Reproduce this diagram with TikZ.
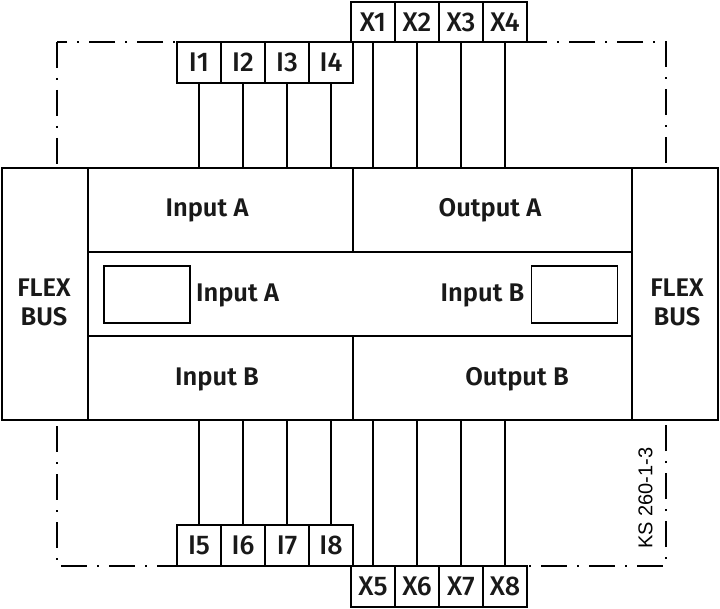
\documentclass[tikz,border=0pt]{standalone}
\usepackage{fontspec}
\newfontfamily\labfont{Fira Sans SemiBold}
\newfontfamily\termfont{Fira Sans Medium}
\newfontfamily\codefont{Liberation Sans}
\begin{document}
\begin{tikzpicture}[x=1pt,y=-1pt,
  panel/.style={draw, line width=1.8pt, fill=white, inner sep=0pt, rectangle},
  term/.style={draw, line width=1.8pt, fill=white, inner sep=0pt, minimum width=44pt, font=\termfont\fontsize{27}{29}\selectfont, text=black!90},
  wire/.style={line width=1.2pt},
  lbl/.style={font=\labfont\fontsize{25.5}{29}\selectfont, inner sep=0pt, align=center, text=black!90},
  frame/.style={line width=1.3pt, dash pattern=on 26pt off 10pt on 2pt off 10pt}]
\useasboundingbox (0,0) rectangle (720,609);
% dash-dot enclosure
\coordinate (f1) at (57,42);
\coordinate (f2) at (666,566);
\draw[frame] (f1) rectangle (f2);
% main panels
\node[panel, minimum width=86pt, minimum height=252pt] (flexL) at (45,294) {};
\node[panel, minimum width=86pt, minimum height=252pt] (flexR) at (675,294) {};
\node[panel, minimum width=265pt, minimum height=84pt] (inA) at (220.5,210) {};
\node[panel, minimum width=279pt, minimum height=84pt] (outA) at (492.5,210) {};
\node[panel, minimum width=544pt, minimum height=84pt] (mid) at (360,294) {};
\node[panel, minimum width=265pt, minimum height=84pt] (inB) at (220.5,378) {};
\node[panel, minimum width=279pt, minimum height=84pt] (outB) at (492.5,378) {};
\node[panel, minimum width=86pt, minimum height=57pt] (boxL) at (147,294.5) {};
\node[panel, minimum width=86pt, minimum height=57pt] (boxR) at (574.5,294.5) {};
% labels
\node[lbl] (tflexL) at (44,302) {FLEX\\BUS};
\node[lbl] (tflexR) at (677,302) {FLEX\\BUS};
\node[lbl] (tinA) at (207,210) {Input A};
\node[lbl] (toutA) at (490,210) {Output A};
\node[lbl] (tminA) at (237.5,295) {Input A};
\node[lbl] (tminB) at (482.5,295) {Input B};
\node[lbl] (tinB) at (217,379) {Input B};
\node[lbl] (toutB) at (517,379) {Output B};
\node[font=\codefont\fontsize{20}{22}\selectfont, rotate=90, inner sep=0pt] (code) at (645.5,498) {KS 260-1-3};
% top terminals
\foreach \i/\x in {1/199,2/243,3/287,4/331}{
  \node[term, minimum height=41pt] (I\i) at (\x,62.5) {I\i};
  \draw[wire] (I\i.south) -- (I\i.south |- inA.north);
}
\foreach \i/\x in {1/373,2/417,3/461,4/505}{
  \node[term, minimum height=40pt] (X\i) at (\x,22) {X\i};
  \draw[wire] (X\i.south) -- (X\i.south |- outA.north);
}
% bottom terminals
\foreach \i/\x in {5/199,6/243,7/287,8/331}{
  \node[term, minimum height=41pt] (I\i) at (\x,545.5) {I\i};
  \draw[wire] (I\i.north) -- (I\i.north |- inB.south);
}
\foreach \i/\x in {5/373,6/417,7/461,8/505}{
  \node[term, minimum height=41pt] (X\i) at (\x,586.5) {X\i};
  \draw[wire] (X\i.north) -- (X\i.north |- outB.south);
}
\end{tikzpicture}
\end{document}
